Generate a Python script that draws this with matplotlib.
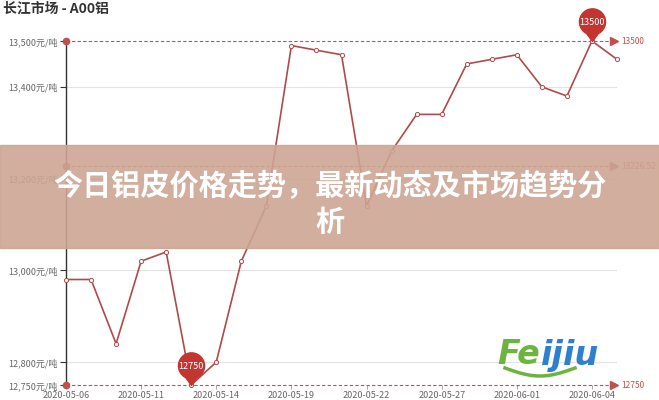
import numpy as np
import matplotlib
matplotlib.use("Agg")
import matplotlib.pyplot as plt
from matplotlib.path import Path
from matplotlib.patches import Rectangle

plt.rcParams['font.family'] = ['Noto Sans CJK SC', 'DejaVu Sans']

dates = [
    "2020-05-06", "2020-05-07", "2020-05-08", "2020-05-11", "2020-05-12",
    "2020-05-13", "2020-05-14", "2020-05-15", "2020-05-18", "2020-05-19",
    "2020-05-20", "2020-05-21", "2020-05-22", "2020-05-25", "2020-05-26",
    "2020-05-27", "2020-05-28", "2020-05-29", "2020-06-01", "2020-06-02",
    "2020-06-03", "2020-06-04", "2020-06-05",
]
prices = [
    12980, 12980, 12840, 13020, 13040, 12750, 12800, 13020, 13140, 13490,
    13480, 13470, 13140, 13260, 13340, 13340, 13450, 13460, 13470, 13400,
    13380, 13500, 13460,
]
y_ticks = [12750, 12800, 13000, 13200, 13400, 13500]
title = "长江市场 - A00铝"
banner = "今日铝皮价格走势，最新动态及市场趋势分\n析"

line_color = "#b04a4a"
mark_color = "#c0504d"
pin_color = "#c23531"

x = np.arange(len(prices))
vmax, vmin, vavg = max(prices), min(prices), float(np.mean(prices))

fig = plt.figure(figsize=(6.59, 4.0), dpi=100)
ax = fig.add_axes([66 / 659, 15 / 400, 551 / 659, 344 / 400])
ax.set_xlim(0, len(prices) - 1)
ax.set_ylim(12750, 13500)

# grid and axes
for t in y_ticks[1:-1]:
    ax.axhline(t, color="#e3e3e3", lw=0.8, zorder=0)
for s in ("top", "right", "bottom"):
    ax.spines[s].set_visible(False)
ax.spines["left"].set_color("#333333")
ax.spines["left"].set_linewidth(1.0)
ax.set_yticks(y_ticks)
ax.set_yticklabels([f"{t:,}元/吨" for t in y_ticks])
ax.set_xticks(x[::3])
ax.set_xticklabels(dates[::3])
ax.tick_params(axis="y", length=4, width=0.8, color="#333333",
               labelsize=6.5, labelcolor="#666666", pad=2)
ax.tick_params(axis="x", length=3, width=0.6, color="#999999",
               labelsize=6.5, labelcolor="#666666", pad=1)

# series
ax.plot(x, prices, color=line_color, lw=1.2, zorder=3, clip_on=False)
ax.plot(x, prices, "o", ms=3, mfc="white", mec=line_color, mew=0.7,
        zorder=4, clip_on=False)

# max / avg / min mark lines
for v, lab in ((vmax, "13500"), (vavg, f"{vavg:.2f}"), (vmin, "12750")):
    ax.plot([0, x[-1]], [v, v], ls=(0, (3, 2)), color=mark_color, lw=0.8,
            zorder=2, clip_on=False)
    ax.plot(0, v, "o", ms=4.5, color=mark_color, zorder=5, clip_on=False)
    ax.plot(x[-1] - 0.1, v, ">", ms=6, color=mark_color, zorder=5,
            clip_on=False)
    ax.annotate(lab, (x[-1], v), xytext=(3, 0), textcoords="offset points",
                va="center", ha="left", fontsize=6, color=mark_color)

# pin mark points
theta = np.linspace(-0.35 * np.pi, 1.35 * np.pi, 40)
cx, cy = 0.0, 1.5
verts = [(0, 0)] + [(cx + np.cos(t), cy + np.sin(t)) for t in theta] + [(0, 0)]
pin = Path(verts, [Path.MOVETO] + [Path.LINETO] * (len(verts) - 2) + [Path.CLOSEPOLY])
for i in (prices.index(vmax), prices.index(vmin)):
    ax.plot(x[i], prices[i], marker=pin, ms=47, color=pin_color,
            mec=pin_color, zorder=6, clip_on=False)
    ax.annotate(str(prices[i]), (x[i], prices[i]), xytext=(0, 13.5),
                textcoords="offset points", ha="center", va="center",
                fontsize=6.5, color="white", zorder=7)

# title
fig.text(3 / 659, 1 - 9 / 400, title, fontsize=10, weight="bold",
         color="#333333", va="center", ha="left")

# watermark logo
fig.text(497 / 659, 1 - 355 / 400, "Fe", fontsize=24, weight="bold",
         style="italic", color="#6db33f", va="center", ha="left",
         family="DejaVu Sans")
fig.text(541 / 659, 1 - 355 / 400, "ijiu", fontsize=24, weight="bold",
         style="italic", color="#2f7fd0", va="center", ha="left",
         family="DejaVu Sans")
sw = np.linspace(0, 1, 30)
fig.lines.append(plt.Line2D(
    (505 + 70 * sw) / 659, 1 - (368 + 8 * np.sin(np.pi * sw)) / 400,
    transform=fig.transFigure, color="#6db33f", lw=2.5, zorder=3))

# banner overlay
fig.patches.append(Rectangle((0, 1 - 248 / 400), 1, 103 / 400,
                             transform=fig.transFigure, color="#cca593",
                             alpha=0.9, zorder=10))
fig.text(0.5, 1 - 204 / 400, banner, fontsize=21, weight="black",
         color="white", ha="center", va="center", linespacing=1.25,
         zorder=11)

fig.savefig("out.png", dpi=100)
